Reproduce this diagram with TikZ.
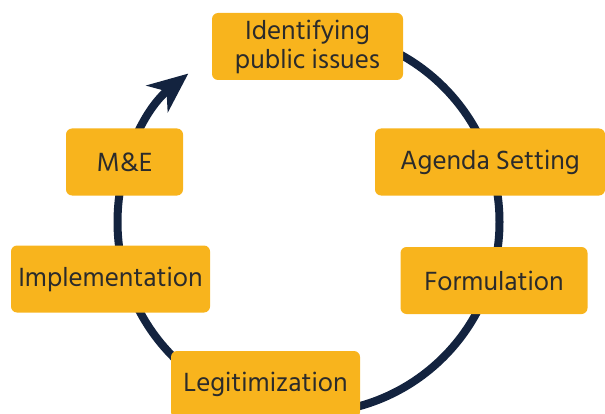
\documentclass[tikz,border=0pt]{standalone}
\usepackage{fontspec}
\setmainfont{Hind Siliguri}
\usetikzlibrary{arrows.meta,positioning}
\definecolor{stageyellow}{HTML}{F8B41D}
\definecolor{cyclenavy}{HTML}{13233F}
\definecolor{stagetext}{HTML}{2B2B2B}
\tikzset{
  stage/.style={fill=stageyellow, rounded corners=6pt, minimum height=67pt,
    inner xsep=0pt, text=stagetext, font=\fontsize{27}{29}\selectfont, align=center},
  cycle/.style={draw=cyclenavy, line width=8pt,
    -{Stealth[length=40pt, width=34pt, inset=12pt]}}
}
\begin{document}
\begin{tikzpicture}[x=1pt, y=1pt]
      \useasboundingbox (0,0) rectangle (605,413);
      \coordinate (centre) at (308.5,191);
      \draw[cycle] (centre) ++(90:191pt) arc[start angle=90, end angle=-231, radius=191pt];
      \node[stage, minimum width=191pt] (issues) at (307.5,366.5) {Identifying\\public issues};
      \node[stage, minimum width=230pt] (agenda) at (490,251) {Agenda Setting};
      \node[stage, minimum width=187pt] (formulation) at (494,132.5) {Formulation};
      \node[stage, minimum width=189pt] (legit) at (265.5,28.5) {Legitimization};
      \node[stage, minimum width=199pt] (implement) at (110.5,134) {Implementation};
      \node[stage, minimum width=117pt] (me) at (124.5,251) {M\&E};
    \end{tikzpicture}
\end{document}
